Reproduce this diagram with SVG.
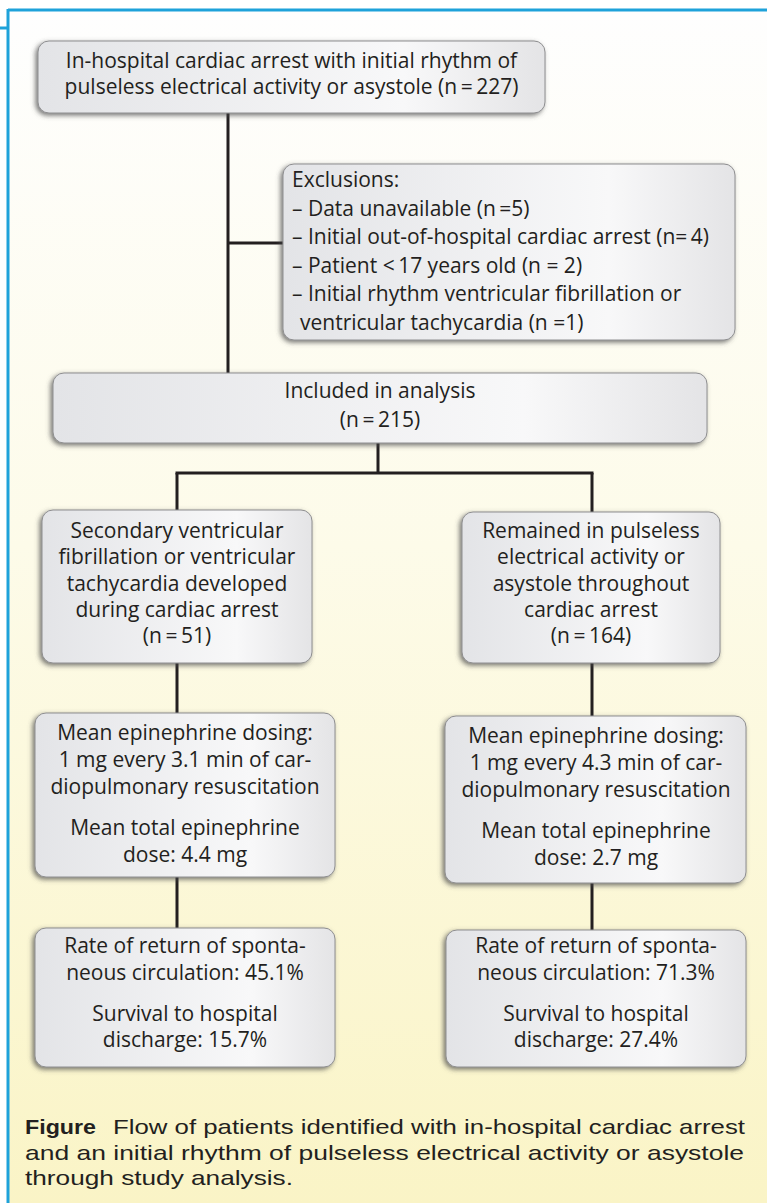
<svg xmlns="http://www.w3.org/2000/svg" width="767" height="1203" viewBox="0 0 767 1203">
<defs>
<linearGradient id="bg" x1="0" y1="0" x2="0" y2="1">
<stop offset="0" stop-color="#fefefe"/>
<stop offset="0.45" stop-color="#fdfbe9"/>
<stop offset="1" stop-color="#faf4c6"/>
</linearGradient>
<linearGradient id="boxfill" x1="0" y1="0" x2="1" y2="0">
<stop offset="0" stop-color="#e3e4e7"/>
<stop offset="0.72" stop-color="#f8f8f9"/>
<stop offset="1" stop-color="#e4e4e6"/>
</linearGradient>
<filter id="shadow" x="-10%" y="-10%" width="120%" height="125%">
<feDropShadow dx="-2" dy="2" stdDeviation="2.5" flood-color="#4a4a4a" flood-opacity="0.75"/>
</filter>
</defs>
<style>
.box{fill:url(#boxfill);stroke:#8e8e90;stroke-width:1;filter:url(#shadow)}
.t{font-family:"Open Sans","Noto Sans",sans-serif;font-size:21px;fill:#231f20}
.c{text-anchor:middle}
.con line{stroke:#231f20;stroke-width:3}
.cap{font-family:"Liberation Sans",Arial,sans-serif;font-size:21px;fill:#231f20}
.frame{stroke:#1ea2da;stroke-width:3;fill:none}
</style>
<rect x="0" y="0" width="767" height="1203" fill="#ffffff"/>
<rect x="8" y="10" width="759" height="1193" fill="url(#bg)"/>
<g id="frame">
<line class="frame" x1="8" y1="10" x2="767" y2="10"/>
<line class="frame" x1="8" y1="9" x2="8" y2="1203"/>
<line class="frame" x1="0" y1="28" x2="8" y2="28"/>
</g>
<g class="con" id="connectors">
<line x1="228" y1="113" x2="228" y2="373"/>
<line x1="228" y1="243" x2="283" y2="243"/>
<line x1="378" y1="443" x2="378" y2="474"/>
<line x1="175.5" y1="473" x2="593.5" y2="473"/>
<line x1="177" y1="473" x2="177" y2="510"/>
<line x1="592" y1="473" x2="592" y2="512"/>
<line x1="177" y1="663" x2="177" y2="713"/>
<line x1="592" y1="663" x2="592" y2="716"/>
<line x1="177" y1="877" x2="177" y2="928"/>
<line x1="592" y1="883" x2="592" y2="930"/>
</g>
<g id="n-start">
<rect class="box" x="38" y="41" width="507" height="72" rx="11"/>
<text class="t c" x="291.5" y="68">In-hospital cardiac arrest with initial rhythm of</text>
<text class="t c" x="291.5" y="94">pulseless electrical activity or asystole (n&#8201;=&#8201;227)</text>
</g>
<g id="n-exclusions">
<rect class="box" x="283" y="164" width="452" height="176" rx="11"/>
<text class="t" x="292" y="187">Exclusions:</text>
<text class="t" x="292" y="215.6">– Data unavailable (n&#8201;=5)</text>
<text class="t" x="292" y="244.2">– Initial out-of-hospital cardiac arrest (n=&#8201;4)</text>
<text class="t" x="292" y="272.8">– Patient &lt;&#8201;17 years old (n = 2)</text>
<text class="t" x="292" y="301.4">– Initial rhythm ventricular fibrillation or</text>
<text class="t" x="300" y="330">ventricular tachycardia (n =1)</text>
</g>
<g id="n-included">
<rect class="box" x="53" y="373" width="654" height="70" rx="11"/>
<text class="t c" x="380" y="398">Included in analysis</text>
<text class="t c" x="380" y="427">(n&#8201;=&#8201;215)</text>
</g>
<g id="n-secondary">
<rect class="box" x="42" y="510" width="270" height="153" rx="11"/>
<text class="t c" x="177" y="538">Secondary ventricular</text>
<text class="t c" x="177" y="564.3">fibrillation or ventricular</text>
<text class="t c" x="177" y="590.6">tachycardia developed</text>
<text class="t c" x="177" y="616.9">during cardiac arrest</text>
<text class="t c" x="177" y="643.2">(n&#8201;=&#8201;51)</text>
</g>
<g id="n-remained">
<rect class="box" x="462" y="512" width="258" height="151" rx="11"/>
<text class="t c" x="591" y="538">Remained in pulseless</text>
<text class="t c" x="591" y="564.3">electrical activity or</text>
<text class="t c" x="591" y="590.6">asystole throughout</text>
<text class="t c" x="591" y="616.9">cardiac arrest</text>
<text class="t c" x="591" y="643.2">(n&#8201;=&#8201;164)</text>
</g>
<g id="n-dose-left">
<rect class="box" x="35" y="713" width="300" height="164" rx="11"/>
<text class="t c" x="185" y="740">Mean epinephrine dosing:</text>
<text class="t c" x="185" y="767">1 mg every 3.1 min of car-</text>
<text class="t c" x="185" y="794">diopulmonary resuscitation</text>
<text class="t c" x="185" y="835">Mean total epinephrine</text>
<text class="t c" x="185" y="862">dose: 4.4 mg</text>
</g>
<g id="n-dose-right">
<rect class="box" x="445" y="716" width="301" height="167" rx="11"/>
<text class="t c" x="596" y="743">Mean epinephrine dosing:</text>
<text class="t c" x="596" y="770">1 mg every 4.3 min of car-</text>
<text class="t c" x="596" y="797">diopulmonary resuscitation</text>
<text class="t c" x="596" y="838">Mean total epinephrine</text>
<text class="t c" x="596" y="865">dose: 2.7 mg</text>
</g>
<g id="n-outcome-left">
<rect class="box" x="35" y="928" width="300" height="139" rx="11"/>
<text class="t c" x="185" y="953">Rate of return of sponta-</text>
<text class="t c" x="185" y="980">neous circulation: 45.1%</text>
<text class="t c" x="185" y="1021">Survival to hospital</text>
<text class="t c" x="185" y="1047">discharge: 15.7%</text>
</g>
<g id="n-outcome-right">
<rect class="box" x="446" y="930" width="300" height="137" rx="11"/>
<text class="t c" x="596" y="953">Rate of return of sponta-</text>
<text class="t c" x="596" y="980">neous circulation: 71.3%</text>
<text class="t c" x="596" y="1021">Survival to hospital</text>
<text class="t c" x="596" y="1047">discharge: 27.4%</text>
</g>
<g id="caption">
<text class="cap" x="25" y="1134" font-weight="bold" textLength="71" lengthAdjust="spacingAndGlyphs">Figure</text>
<text class="cap" x="113" y="1134" textLength="632" lengthAdjust="spacingAndGlyphs">Flow of patients identified with in-hospital cardiac arrest</text>
<text class="cap" x="25" y="1160" textLength="719" lengthAdjust="spacingAndGlyphs">and an initial rhythm of pulseless electrical activity or asystole</text>
<text class="cap" x="25" y="1185" textLength="268" lengthAdjust="spacingAndGlyphs">through study analysis.</text>
</g>
</svg>
